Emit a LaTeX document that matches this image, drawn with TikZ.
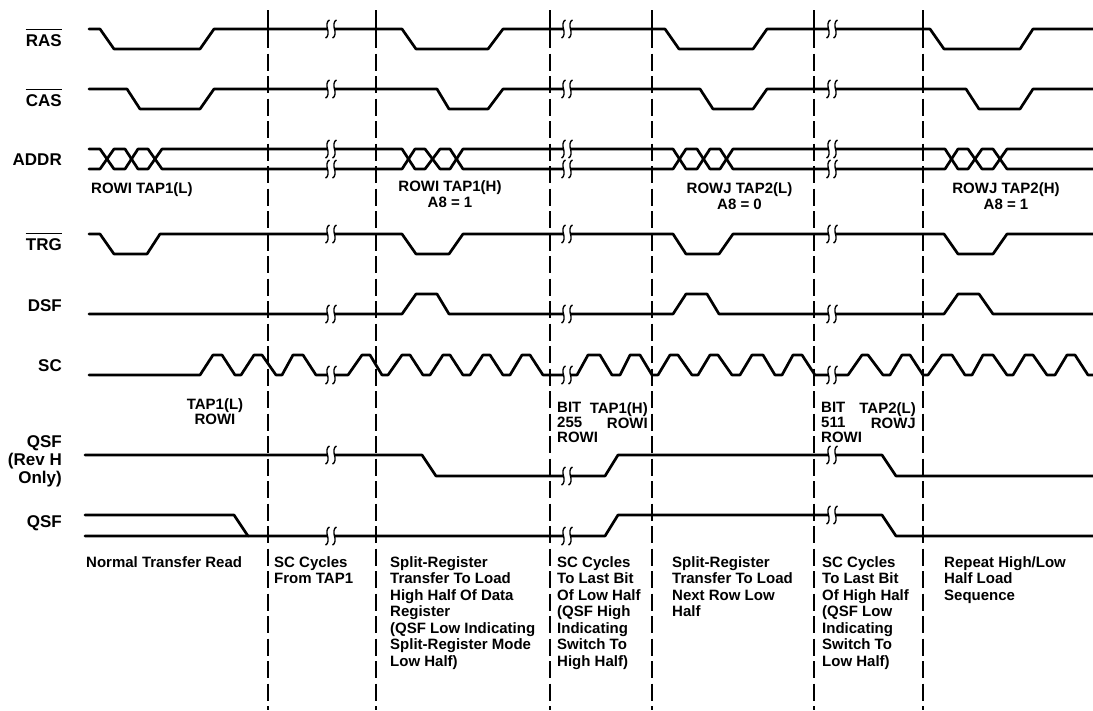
\documentclass[tikz,border=0pt]{standalone}
\usepackage{fontspec}
\setmainfont{Liberation Sans}
\tikzset{
  sigline/.style={line width=2.7pt, line join=round, line cap=round},
  dashline/.style={line width=1.2pt, dash pattern=on 17pt off 5.5pt, dash phase=1.5pt},
  siglabel/.style={anchor=east, inner sep=0pt, align=right, font=\fontsize{17}{18}\bfseries\selectfont},
  barline/.style={line width=1pt},
  note/.style={anchor=north west, inner sep=0pt, align=left, font=\fontsize{15}{16.5}\bfseries\selectfont},
  addrnote/.style={anchor=north, inner sep=0pt, align=center, font=\fontsize{15}{16}\bfseries\selectfont},
  tapnote/.style={inner sep=0pt, font=\fontsize{15}{15}\bfseries\selectfont}
}
\newcommand{\sigbreak}[2]{
  \fill[white] (#1-3,#2-4) rectangle (#1+3,#2+4);
  \foreach \c in {-3.5,3.5}
    \draw[line width=1.4pt] (#1+\c+2,#2-9) .. controls (#1+\c-1,#2-8) and (#1+\c-1,#2-3) .. (#1+\c,#2)
      .. controls (#1+\c+1,#2+3) and (#1+\c+1,#2+8) .. (#1+\c-2,#2+9);
}
\begin{document}
\begin{tikzpicture}[x=1pt,y=-1pt]
\useasboundingbox (0,0) rectangle (1093,710);
\foreach \x in {268,376,550,652,814,923} {
  \draw[dashline] (\x,10) -- (\x,710);
  \draw[line width=1.2pt] (\x,10) -- (\x,40);
}

\draw[sigline] (89,29) -- (100,29) -- (114,49) -- (200,49) -- (214,29) -- (402,29) -- (416,49) -- (488,49) -- (503,29) -- (665,29) -- (679,49) -- (753,49) -- (767,29) -- (930,29) -- (944,49) -- (1020,49) -- (1033,29) -- (1093,29);
\draw[sigline] (89,89) -- (127,89) -- (140,109) -- (200,109) -- (214,89) -- (437,89) -- (449,109) -- (488,109) -- (503,89) -- (700,89) -- (713,109) -- (753,109) -- (767,89) -- (966,89) -- (979,109) -- (1020,109) -- (1033,89) -- (1093,89);
\draw[sigline] (89,149) -- (100,149) -- (114,169) -- (125,169) -- (138,149) -- (148,149) -- (162,169) -- (402,169) -- (415,149) -- (425,149) -- (440,169) -- (450,169) -- (463,149) -- (673,149) -- (686,169) -- (697,169) -- (710,149) -- (720,149) -- (733,169) -- (945,169) -- (958,149) -- (968,149) -- (982,169) -- (993,169) -- (1007,149) -- (1093,149);
\draw[sigline] (89,169) -- (100,169) -- (114,149) -- (125,149) -- (138,169) -- (148,169) -- (162,149) -- (402,149) -- (415,169) -- (425,169) -- (440,149) -- (450,149) -- (463,169) -- (673,169) -- (686,149) -- (697,149) -- (710,169) -- (720,169) -- (733,149) -- (945,149) -- (958,169) -- (968,169) -- (982,149) -- (993,149) -- (1007,169) -- (1093,169);
\draw[sigline] (89,234) -- (100,234) -- (114,254) -- (147,254) -- (160,234) -- (402,234) -- (416,254) -- (449,254) -- (463,234) -- (673,234) -- (686,254) -- (719,254) -- (733,234) -- (944,234) -- (958,254) -- (993,254) -- (1007,234) -- (1093,234);
\draw[sigline] (89,314) -- (402,314) -- (416,294) -- (437,294) -- (449,314) -- (673,314) -- (686,294) -- (707,294) -- (719,314) -- (944,314) -- (958,294) -- (979,294) -- (993,314) -- (1093,314);
\draw[sigline] (89,375) -- (200,375) -- (213,355) -- (222,355) -- (235,375) -- (241,375) -- (254,355) -- (262,355) -- (276,375) -- (282,375) -- (293,355) -- (303,355) -- (316,375) -- (348,375) -- (362,355) -- (370,355) -- (382,375) -- (388,375) -- (402,355) -- (410,355) -- (423,375) -- (430,375) -- (443,355) -- (450,355) -- (463,375) -- (470,375) -- (483,355) -- (490,355) -- (503,375) -- (510,375) -- (522,355) -- (530,355) -- (543,375) -- (577,375) -- (588,355) -- (600,355) -- (612,375) -- (620,375) -- (630,355) -- (640,355) -- (652,375) -- (658,375) -- (670,355) -- (678,355) -- (692,375) -- (698,375) -- (710,355) -- (718,355) -- (732,375) -- (740,375) -- (752,355) -- (763,355) -- (775,375) -- (782,375) -- (793,355) -- (802,355) -- (815,375) -- (848,375) -- (862,355) -- (868,355) -- (883,375) -- (890,375) -- (902,355) -- (910,355) -- (923,375) -- (928,375) -- (942,355) -- (952,355) -- (965,375) -- (972,375) -- (983,355) -- (993,355) -- (1007,375) -- (1013,375) -- (1025,355) -- (1033,355) -- (1047,375) -- (1055,375) -- (1067,355) -- (1075,355) -- (1088,375) -- (1093,375);
\draw[sigline] (85,455) -- (422,455) -- (436,476) -- (605,476) -- (618,455) -- (882,455) -- (896,476) -- (1093,476);
\draw[sigline] (85,515) -- (234,515) -- (248,536);
\draw[sigline] (85,536) -- (605,536) -- (618,515) -- (882,515) -- (896,536) -- (1093,536);

\foreach \y in {29,89,149,169,234,314,375} {
  \sigbreak{331}{\y}
  \sigbreak{567}{\y}
  \sigbreak{832}{\y}
}
\sigbreak{331}{455}
\sigbreak{567}{476}
\sigbreak{832}{455}
\sigbreak{331}{536}
\sigbreak{567}{536}
\sigbreak{832}{515}

\node[siglabel] (lblRAS) at (62,41) {RAS};
\node[siglabel] (lblCAS) at (62,101) {CAS};
\node[siglabel] (lblADDR) at (62,160) {ADDR};
\node[siglabel] (lblTRG) at (62,245) {TRG};
\node[siglabel] (lblDSF) at (62,306) {DSF};
\node[siglabel] (lblSC) at (62,366) {SC};
\node[siglabel] (lblQSFa) at (62,461) {QSF\\(Rev H\\Only)};
\node[siglabel] (lblQSFb) at (62,523) {QSF};
\draw[barline] ([yshift=5pt]lblRAS.north west) -- ([yshift=5pt]lblRAS.north east);
\draw[barline] ([yshift=5pt]lblCAS.north west) -- ([yshift=5pt]lblCAS.north east);
\draw[barline] ([yshift=5pt]lblTRG.north west) -- ([yshift=5pt]lblTRG.north east);

\node[note] (rowiL) at (91,182) {ROWI TAP1(L)};
\node[addrnote] (rowiH) at (450,180) {ROWI TAP1(H)\\A8 = 1};
\node[addrnote] (rowjL) at (739.5,182) {ROWJ TAP2(L)\\A8 = 0};
\node[addrnote] (rowjH) at (1006,182) {ROWJ TAP2(H)\\A8 = 1};

\node[tapnote, anchor=north, align=center] (tapL) at (215,398) {TAP1(L)\\ROWI};
\node[tapnote, anchor=north west, align=left] (bitA) at (557,402) {BIT\\255\\ROWI};
\node[tapnote, anchor=north east, align=right] (tapH) at (648,402) {TAP1(H)\\ROWI};
\node[tapnote, anchor=north west, align=left] (bitB) at (821,402) {BIT\\511\\ROWI};
\node[tapnote, anchor=north east, align=right] (tapJ) at (916,402) {TAP2(L)\\ROWJ};

\node[note] (phaseA) at (86,556) {Normal Transfer Read};
\node[note] (phaseB) at (274,556) {SC Cycles\\From TAP1};
\node[note] (phaseC) at (390,556) {Split-Register\\Transfer To Load\\High Half Of Data\\Register\\(QSF Low Indicating\\Split-Register Mode\\Low Half)};
\node[note] (phaseD) at (557,556) {SC Cycles\\To Last Bit\\Of Low Half\\(QSF High\\Indicating\\Switch To\\High Half)};
\node[note] (phaseE) at (672,556) {Split-Register\\Transfer To Load\\Next Row Low\\Half};
\node[note] (phaseF) at (822,556) {SC Cycles\\To Last Bit\\Of High Half\\(QSF Low\\Indicating\\Switch To\\Low Half)};
\node[note] (phaseG) at (944,556) {Repeat High/Low\\Half Load\\Sequence};
\end{tikzpicture}
\end{document}
